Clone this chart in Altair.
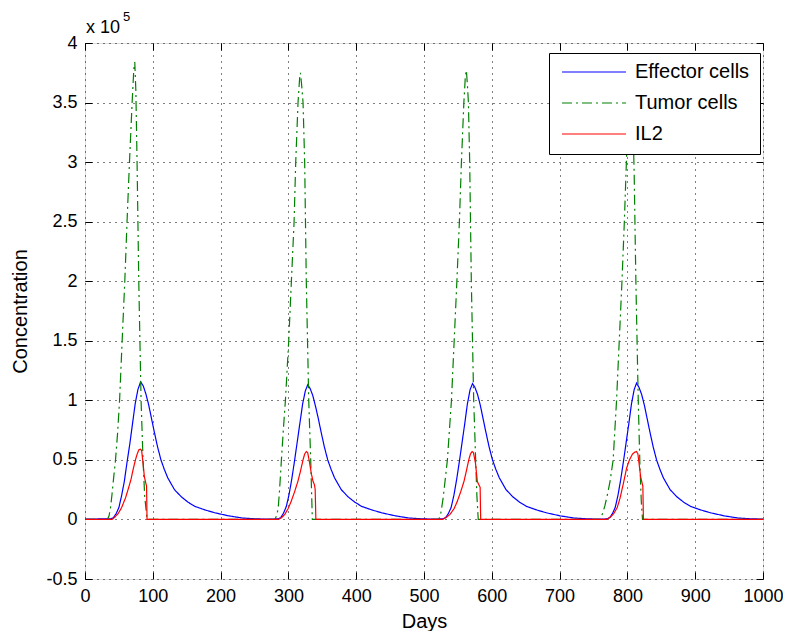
import altair as alt
import pandas as pd

# ---------------- data (values in units of 1e5) ----------------
series_names = ["Effector cells", "Tumor cells", "IL2"]
series_colors = ["#0000ff", "#008000", "#ff0000"]
x_ticks = [0, 100, 200, 300, 400, 500, 600, 700, 800, 900, 1000]
y_ticks = [-0.5, 0, 0.5, 1, 1.5, 2, 2.5, 3, 3.5, 4]

eff_days = [0, 38, 42, 46, 50, 54, 58, 62, 66, 70, 74, 78, 82, 86, 90, 94, 98, 102, 107, 112,
            117, 122, 127, 132, 142, 152, 162, 177, 192, 212, 232, 252, 272,
            285, 289, 293, 297, 301, 305, 309, 313, 317, 321, 325, 328.5, 332, 336, 340, 344,
            348, 353, 358, 363, 368, 373, 378, 388, 398, 408, 423, 438, 458, 478, 498, 518,
            528, 532, 536, 540, 544, 548, 552, 556, 560, 564, 568, 571.5, 575, 579, 583, 587,
            591, 596, 601, 606, 611, 616, 621, 631, 641, 651, 666, 681, 701, 721, 741, 761,
            770, 774, 778, 782, 786, 790, 794, 798, 802, 806, 810, 813.5, 817, 821, 825, 829,
            833, 838, 843, 848, 853, 858, 863, 873, 883, 893, 908, 923, 943, 963, 983, 1000]
eff_vals = [0.003, 0.005, 0.015, 0.05, 0.10, 0.20, 0.32, 0.48, 0.63, 0.80, 0.97, 1.09, 1.155, 1.12,
            1.05, 0.96, 0.85, 0.74, 0.61, 0.50, 0.42, 0.35, 0.30, 0.25, 0.19, 0.145, 0.11, 0.08,
            0.055, 0.03, 0.012, 0.005, 0.002,
            0.005, 0.018, 0.055, 0.11, 0.21, 0.34, 0.49, 0.65, 0.81, 0.97, 1.08, 1.13, 1.10,
            1.04, 0.95, 0.85, 0.74, 0.61, 0.50, 0.42, 0.35, 0.30, 0.25, 0.19, 0.145, 0.11, 0.08,
            0.055, 0.03, 0.012, 0.005, 0.002,
            0.005, 0.016, 0.05, 0.10, 0.20, 0.33, 0.48, 0.64, 0.80, 0.97, 1.09, 1.14, 1.11, 1.05,
            0.96, 0.85, 0.74, 0.61, 0.50, 0.42, 0.35, 0.30, 0.25, 0.19, 0.145, 0.11, 0.08, 0.055,
            0.03, 0.012, 0.005, 0.002,
            0.005, 0.016, 0.05, 0.10, 0.20, 0.33, 0.48, 0.64, 0.80, 0.97, 1.09, 1.145, 1.11, 1.05,
            0.96, 0.85, 0.74, 0.61, 0.50, 0.42, 0.35, 0.30, 0.25, 0.19, 0.145, 0.11, 0.08, 0.055,
            0.03, 0.012, 0.005, 0.003]

tum_days = [0, 33, 35.5, 37.7, 40, 42.6, 45, 48, 51, 54.8, 58.7, 62, 65.6, 69.5, 72, 73.4, 75,
            76.8, 79.3, 82.7, 85.6, 88, 91.5, 95,
            280, 282.5, 284.9, 287, 289.7, 292.5, 295.6, 300.5, 304.4, 308.4, 310.8, 314.2, 316.5,
            317.7, 319.5, 321.6, 324, 326.4, 330, 332.9, 335.3,
            522, 525, 528, 531, 534.5, 537.5, 540.5, 544.5, 548.5, 552.2, 555.2, 558.8, 561, 562.5,
            564, 565.5, 567.4, 569.8, 573.3, 576.2, 578, 580,
            760, 764.6, 767, 771, 774.4, 779, 784, 788, 792, 795.5, 798.5, 801.8, 803.8, 805, 806.5,
            808, 810, 812.5, 816, 818.4, 820.5, 822.3, 1000]
tum_vals = [0, 0, 0.03, 0.1, 0.22, 0.37, 0.5, 0.72, 1.0, 1.5, 2.0, 2.5, 3.0, 3.5, 3.78, 3.84, 3.6,
            3.0, 2.0, 1.0, 0.5, 0.2, 0.0, 0,
            0, 0.03, 0.09, 0.25, 0.5, 0.75, 1.0, 1.5, 2.0, 2.5, 3.0, 3.5, 3.7, 3.75, 3.65, 3.5,
            3.0, 2.0, 1.0, 0.5, 0.0,
            0, 0.06, 0.17, 0.32, 0.5, 0.75, 1.0, 1.5, 2.0, 2.5, 3.0, 3.5, 3.72, 3.77, 3.65, 3.5,
            3.0, 2.0, 1.0, 0.5, 0.2, 0,
            0, 0.07, 0.12, 0.22, 0.32, 0.5, 1.0, 1.5, 2.0, 2.5, 3.0, 3.5, 3.7, 3.75, 3.6, 3.4,
            2.9, 2.0, 1.0, 0.47, 0.15, 0, 0]

il2_days = [0, 40, 44, 49, 54, 59.7, 64, 68, 71, 74.4, 77, 79.5, 81.5, 83.5, 85.5, 87.5, 89.5,
            90.8, 91.5,
            285, 290, 295, 299.5, 304, 309, 314, 318, 321.6, 324, 326.5, 328.5, 331.4, 334, 336.3,
            338.5, 339.5, 340.5,
            527, 532, 538, 544.3, 549, 554, 559, 563, 566, 568.5, 571, 573, 576, 578.6, 581,
            582.8, 583.6,
            769.5, 775, 780, 785, 789, 794, 798.8, 803, 807.6, 811, 813.5, 815.5, 817.4, 819.5,
            821.5, 822.8, 823.6, 1000]
il2_vals = [0, 0, 0.02, 0.05, 0.1, 0.18, 0.26, 0.34, 0.42, 0.5, 0.55, 0.585, 0.59, 0.58, 0.48,
            0.36, 0.31, 0.28, 0.0,
            0, 0.015, 0.045, 0.09, 0.15, 0.23, 0.32, 0.41, 0.5, 0.55, 0.57, 0.56, 0.47, 0.38, 0.32,
            0.29, 0.25, 0,
            0, 0.015, 0.04, 0.09, 0.15, 0.23, 0.32, 0.42, 0.5, 0.55, 0.57, 0.56, 0.47, 0.32, 0.29,
            0.27, 0,
            0, 0.02, 0.05, 0.1, 0.176, 0.3, 0.43, 0.5, 0.55, 0.565, 0.57, 0.55, 0.46, 0.36, 0.31,
            0.28, 0, 0]

df = pd.concat([
    pd.DataFrame({"day": eff_days, "value": eff_vals, "series": series_names[0]}),
    pd.DataFrame({"day": tum_days, "value": tum_vals, "series": series_names[1]}),
    pd.DataFrame({"day": il2_days, "value": il2_vals, "series": series_names[2]}),
], ignore_index=True)

FONT = "Liberation Sans"
FS = 18
TFS = 20
W, H = 678, 536
TICK = 7

color_scale = alt.Scale(domain=series_names, range=series_colors)
dash_scale = alt.Scale(domain=series_names, range=[[1, 0], [10, 4, 2, 4], [1, 0]])
xscale = alt.Scale(domain=[0, 1000], nice=False, zero=False)
yscale = alt.Scale(domain=[-0.5, 4], nice=False, zero=False)

legend = alt.Legend(title=None, orient="none", legendX=464, legendY=10,
                    fillColor="white", strokeColor="black", padding=10,
                    symbolType="stroke", symbolSize=4096, symbolStrokeWidth=1.2,
                    clipHeight=18, rowPadding=11, labelFontSize=20, labelFont=FONT,
                    labelOffset=8, symbolOffset=2, labelColor="black", labelLimit=400)

label_expr = "'' + datum.value"


def layer(name, xaxis, yaxis):
    return alt.Chart(df).transform_filter(alt.datum.series == name).mark_line(
        strokeWidth=1.2, clip=True
    ).encode(
        x=alt.X("day:Q", scale=xscale, axis=xaxis),
        y=alt.Y("value:Q", scale=yscale, axis=yaxis),
        color=alt.Color("series:N", scale=color_scale, legend=legend),
        strokeDash=alt.StrokeDash("series:N", scale=dash_scale, legend=legend),
    )


main_x = alt.Axis(values=x_ticks, orient="bottom", title="Days", ticks=False, domain=False,
                  grid=True, gridDash=[1, 5], gridColor="#000", gridWidth=1,
                  labelFontSize=FS, labelFont=FONT, labelColor="black", labelPadding=8,
                  labelFlush=False, labelOverlap=False, labelExpr=label_expr,
                  titleFontSize=TFS, titleFont=FONT, titleFontWeight="normal",
                  titleColor="black", titlePadding=6)
main_y = alt.Axis(values=y_ticks, orient="left", title="Concentration", ticks=False,
                  domain=False, grid=True, gridDash=[1, 5], gridColor="#000", gridWidth=1,
                  labelFontSize=FS, labelFont=FONT, labelColor="black", labelPadding=8,
                  labelFlush=False, labelOverlap=False, labelExpr=label_expr,
                  titleFontSize=TFS, titleFont=FONT, titleFontWeight="normal",
                  titleColor="black", titlePadding=15)


def tick_axis(orient, values):
    return alt.Axis(values=values, orient=orient, title=None, labels=False, domain=False,
                    grid=False, ticks=True, tickSize=TICK, offset=-TICK,
                    tickColor="black", tickWidth=1)


l_eff = layer(series_names[0], main_x, main_y)
l_tum = layer(series_names[1], tick_axis("bottom", x_ticks), tick_axis("left", y_ticks))
l_il2 = layer(series_names[2], tick_axis("top", x_ticks), tick_axis("right", y_ticks))

exp_base = alt.Chart(pd.DataFrame({"t": ["x 10"]})).mark_text(
    align="left", baseline="alphabetic", fontSize=FS, font=FONT, color="black"
).encode(text="t:N", x=alt.value(1), y=alt.value(-10))
exp_sup = alt.Chart(pd.DataFrame({"t": ["5"]})).mark_text(
    align="left", baseline="alphabetic", fontSize=13, font=FONT, color="black"
).encode(text="t:N", x=alt.value(38), y=alt.value(-22))

chart = alt.layer(l_eff, l_tum, l_il2, exp_base, exp_sup).resolve_axis(
    x="independent", y="independent"
).properties(
    width=W, height=H,
    autosize=alt.AutoSizeParams(type="none"),
    padding={"left": 77, "top": 35, "right": 20, "bottom": 52},
).configure_view(
    stroke="black", strokeWidth=1
).configure(font=FONT, background="white")

chart.save("out.html", embed_options={"renderer": "svg", "actions": False})
